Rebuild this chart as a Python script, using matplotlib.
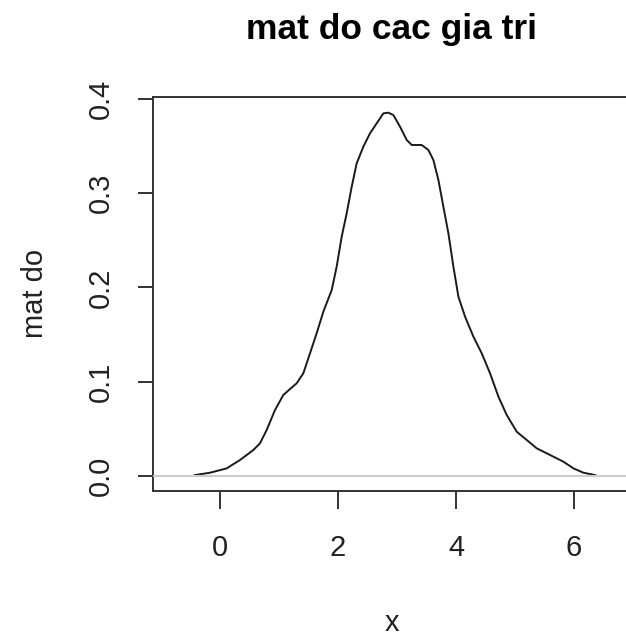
import matplotlib
matplotlib.use("Agg")
import matplotlib.pyplot as plt

# density estimate read off as (x, density) pairs
dens_x = [-0.424, -0.169, 0.113, 0.339, 0.565, 0.678, 0.791, 0.932, 1.073, 1.186,
          1.299, 1.412, 1.525, 1.638, 1.751, 1.893, 1.977, 2.062, 2.147, 2.232,
          2.316, 2.429, 2.542, 2.712, 2.768, 2.853, 2.938, 3.051, 3.164, 3.249,
          3.418, 3.531, 3.616, 3.701, 3.785, 3.870, 3.955, 4.040, 4.153, 4.294,
          4.435, 4.576, 4.718, 4.859, 5.028, 5.198, 5.367, 5.593, 5.819, 5.989,
          6.158, 6.356]
dens_y = [0.0007, 0.0032, 0.0078, 0.0167, 0.0273, 0.0344, 0.0485, 0.0697, 0.0857, 0.0920,
          0.0981, 0.1087, 0.1299, 0.1512, 0.1741, 0.1971, 0.2219, 0.2537, 0.2786, 0.3068,
          0.3316, 0.3493, 0.3635, 0.3794, 0.3847, 0.3854, 0.3829, 0.3705, 0.3564, 0.3511,
          0.3511, 0.3458, 0.3351, 0.3139, 0.2856, 0.2573, 0.2219, 0.1900, 0.1688, 0.1476,
          0.1299, 0.1087, 0.0839, 0.0644, 0.0467, 0.0379, 0.0291, 0.0220, 0.0149, 0.0078,
          0.0032, 0.0007]

x_ticks = [0, 2, 4, 6]
y_ticks = [0.0, 0.1, 0.2, 0.3, 0.4]

plt.rcParams['font.family'] = ['Liberation Sans', 'DejaVu Sans']

fig = plt.figure(figsize=(6.26, 6.37), dpi=100)
ax = fig.add_axes([0.2439, 0.2292, 0.7609, 0.618])

ax.plot(dens_x, dens_y, color="#1a1a1a", lw=1.4, zorder=2)
ax.axhline(0, color="#cccccc", lw=1.5, zorder=3)

ax.set_xlim(-1.14, 6.93)
ax.set_ylim(-0.0162, 0.4017)

ax.set_xticks(x_ticks)
ax.set_xticklabels([str(v) for v in x_ticks])
ax.set_yticks(y_ticks)
ax.set_yticklabels([f"{v:.1f}" for v in y_ticks], rotation=90, va="center")

ax.tick_params(axis="x", length=13, width=1.4, color="#333333", labelsize=21, pad=18)
ax.tick_params(axis="y", length=10.5, width=1.4, color="#333333", labelsize=21, pad=17)
for lbl in ax.get_xticklabels() + ax.get_yticklabels():
    lbl.set_color("#222222")

for s in ax.spines.values():
    s.set_linewidth(1.4)
    s.set_color("#333333")

fig.text(0.625, 0.953, "mat do cac gia tri", ha="center", va="center",
         fontsize=25.5, fontweight="bold")
fig.text(0.626, 0.022, "x", ha="center", va="center", fontsize=21, color="#222222")
fig.text(0.056, 0.54, "mat do", ha="center", va="center", rotation=90,
         fontsize=21, color="#222222")

fig.savefig("out.png", dpi=100)
